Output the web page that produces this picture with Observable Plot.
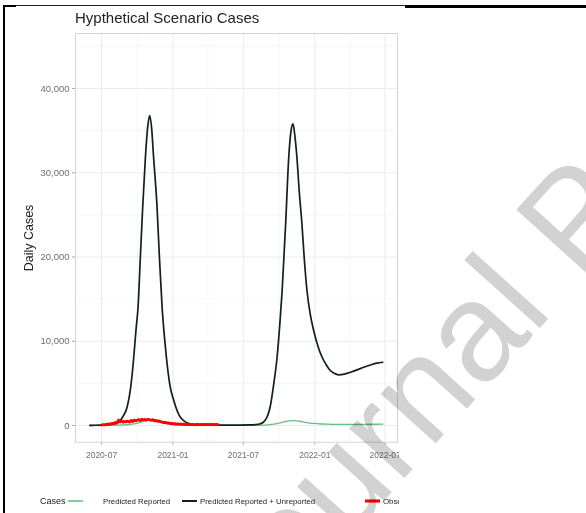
<!DOCTYPE html>
<html>
<head>
<meta charset="utf-8">
<script src="https://cdn.jsdelivr.net/npm/d3@7"></script>
<script src="https://cdn.jsdelivr.net/npm/@observablehq/plot@0.6"></script>
<style>
  body { margin: 0; background: #fff; }
  #page { position: relative; width: 586px; height: 513px; overflow: hidden; background: #fff;
          font-family: "Liberation Sans", Arial, sans-serif; isolation: isolate; }
  .edge { position: absolute; background: #000; }
  #fig { position: absolute; left: 0; top: 0; width: 399px; height: 513px; overflow: hidden; }
  #title { position: absolute; left: 75px; top: 10px; font-size: 15px; line-height: 15px; color: #222; white-space: nowrap; }
  #chart { position: absolute; left: 0; top: 0; }
  #extras { position: absolute; left: 0; top: 0; }
  #chart svg [aria-label="x-axis tick"], #chart svg [aria-label="y-axis tick"] { stroke: #a8a8a8; }
  #chart svg [aria-label="x-axis tick label"] text { fill: #6e6e6e; font-size: 8.5px; }
  #chart svg [aria-label="y-axis tick label"] text { fill: #6e6e6e; font-size: 9.5px; }
  #mark { position: absolute; left: 0; top: 0; pointer-events: none; mix-blend-mode: multiply; }
</style>
</head>
<body>
<div id="page">
  <div id="fig">
    <div id="title">Hypthetical Scenario Cases</div>
    <div id="chart"></div>
    <svg id="extras" width="399" height="513"></svg>
  </div>
  <div class="edge" style="left:3px;top:5px;width:2.4px;height:508px"></div>
  <div class="edge" style="left:3px;top:5px;width:13px;height:2.4px"></div>
  <div class="edge" style="left:16px;top:5px;width:389px;height:1px;background:#222"></div>
  <div class="edge" style="left:405px;top:5px;width:181px;height:2.6px"></div>
  <svg id="mark" width="586" height="513"></svg>
</div>
<script>
// Model output: predicted daily cases (reported only, and reported + unreported)
const predDates = [
  "2020-06-01","2020-06-15","2020-07-01","2020-07-15","2020-07-29","2020-08-10","2020-08-24",
  "2020-09-05","2020-09-14","2020-09-22","2020-09-28","2020-10-03","2020-10-09","2020-10-15",
  "2020-10-22","2020-10-28","2020-11-02","2020-11-07","2020-11-12","2020-11-21","2020-11-27",
  "2020-12-04","2020-12-10","2020-12-15","2020-12-24","2021-01-03","2021-01-20","2021-02-15",
  "2021-03-15","2021-04-15","2021-05-15","2021-06-15","2021-07-15","2021-08-01","2021-08-12",
  "2021-08-22","2021-09-01","2021-09-08","2021-09-17","2021-09-26","2021-10-03","2021-10-09",
  "2021-10-18","2021-10-26","2021-11-01","2021-11-06","2021-11-11","2021-11-16","2021-11-22",
  "2021-11-29","2021-12-05","2021-12-12","2021-12-20","2021-12-29","2022-01-10","2022-01-20",
  "2022-02-01","2022-02-10","2022-02-20","2022-03-03","2022-03-18","2022-04-03","2022-04-20",
  "2022-05-07","2022-05-24","2022-06-10","2022-06-25"
];
const predTotal = [
  20, 30, 50, 80, 150, 280, 1000,
  2200, 4500, 8100, 11500, 14000, 20000, 25900,
  31850, 35500, 36800, 35300, 31850, 25900, 20000,
  14000, 10500, 8100, 4800, 2970, 990, 200,
  60, 40, 40, 50, 70, 110, 180,
  400, 1100, 2170, 4800, 8100, 12000, 16000,
  23900, 31850, 35000, 35800, 34300, 31850, 27800,
  23900, 19800, 16000, 13300, 11300, 9300, 8100,
  7100, 6530, 6200, 6020, 6100, 6330, 6600,
  6920, 7180, 7400, 7510
];
const predReported = [
  5, 8, 12, 18, 25, 35, 60,
  90, 130, 190, 250, 300, 390, 470,
  550, 600, 620, 610, 580, 520, 450,
  360, 290, 240, 160, 110, 60, 30,
  15, 12, 12, 14, 16, 20, 25,
  40, 70, 100, 160, 230, 300, 380,
  470, 540, 580, 590, 580, 560, 520,
  470, 410, 340, 290, 250, 210, 180,
  160, 145, 135, 130, 130, 135, 140,
  145, 150, 152, 155
];

// Observed daily cases, sampled every 4 days from 2020-07-01
const obsStart = "2020-07-01";
const obsStepDays = 4;
const observed = [
  60, 110, 80, 150, 120, 200, 170, 260,
  230, 380, 300, 650, 420, 560, 380, 500,
  440, 520, 400, 600, 480, 640, 560,
  620, 700, 580, 760, 660, 720, 640, 740,
  680, 620, 700, 560, 600, 500, 540, 440,
  420, 340, 380, 290, 320, 240, 260,
  200, 230, 160, 200, 140, 180, 130, 160,
  120, 150, 100, 140, 110, 130, 90,
  120, 150, 95, 130, 110, 140, 100, 125,
  95, 140, 110, 130, 100, 120, 105
];

// Axis breaks
const xTicks = ["2020-07-01","2021-01-01","2021-07-01","2022-01-01","2022-07-01"];
const xMinor = ["2020-10-01","2021-04-01","2021-10-01","2022-04-01"];
const yTicks = [0, 10000, 20000, 30000, 40000];
const yMinor = [5000, 15000, 25000, 35000, 45000];

const seriesNames = ["Predicted Reported", "Predicted Reported + Unreported", "Observed"];
const seriesColors = ["#66bd80", "#10201a", "#ff0000"];
const seriesWidths = [1.3, 1.7, 2.8];

const parse = d3.utcParse("%Y-%m-%d");
const predicted = predDates.map((d, i) => ({date: parse(d), total: predTotal[i], reported: predReported[i]}));
const obsRows = observed.map((v, i) => ({date: d3.utcDay.offset(parse(obsStart), i * obsStepDays), value: v}));

const chart = Plot.plot({
  width: 399,
  height: 470,
  marginLeft: 75,
  marginRight: 2,
  marginTop: 33,
  marginBottom: 28.3,
  style: {fontFamily: "Liberation Sans, Arial, sans-serif", background: "transparent", overflow: "visible"},
  x: {
    type: "utc",
    domain: [parse("2020-04-25"), parse("2022-08-02")],
    ticks: xTicks.map(parse),
    tickFormat: d3.utcFormat("%Y-%m"),
    tickSize: 3,
    tickPadding: 7,
    label: null
  },
  y: {
    domain: [-1980, 46530],
    ticks: yTicks,
    tickFormat: d3.format(","),
    tickSize: 3,
    tickPadding: 3,
    label: null
  },
  marks: [
    Plot.ruleX(xMinor.map(parse), {stroke: "#f4f4f4", strokeWidth: 0.8}),
    Plot.ruleY(yMinor, {stroke: "#f4f4f4", strokeWidth: 0.8}),
    Plot.ruleX(xTicks.map(parse), {stroke: "#ebebeb", strokeWidth: 1}),
    Plot.ruleY(yTicks, {stroke: "#ebebeb", strokeWidth: 1}),
    Plot.frame({stroke: "#d4d4d4", strokeWidth: 1}),
    Plot.line(predicted, {x: "date", y: "reported", stroke: seriesColors[0], strokeWidth: seriesWidths[0], curve: "monotone-x"}),
    Plot.line(predicted, {x: "date", y: "total", stroke: seriesColors[1], strokeWidth: seriesWidths[1], curve: "monotone-x"}),
    Plot.line(obsRows, {x: "date", y: "value", stroke: seriesColors[2], strokeWidth: seriesWidths[2], curve: "linear"})
  ]
});
document.getElementById("chart").appendChild(chart);

// Y-axis title and legend row
const extras = d3.select("#extras")
  .attr("font-family", "Liberation Sans, Arial, sans-serif");
extras.append("text")
  .attr("transform", "translate(33,238) rotate(-90)")
  .attr("text-anchor", "middle")
  .attr("font-size", 12.5)
  .attr("fill", "#222")
  .text("Daily Cases");

const legendY = 501;
extras.append("text")
  .attr("x", 40).attr("y", legendY).attr("dy", "0.35em")
  .attr("font-size", 9).attr("fill", "#222")
  .text("Cases");
const keyX = [68, 182, 365];
const labelX = [103, 200, 383];
seriesNames.forEach((name, i) => {
  extras.append("line")
    .attr("x1", keyX[i]).attr("x2", keyX[i] + 15)
    .attr("y1", legendY).attr("y2", legendY)
    .attr("stroke", seriesColors[i])
    .attr("stroke-width", seriesWidths[i] + 0.3);
  extras.append("text")
    .attr("x", labelX[i]).attr("y", legendY).attr("dy", "0.35em")
    .attr("font-size", 7.8).attr("fill", "#222")
    .text(name);
});

// Page watermark, multiplied over the figure so marks beneath stay visible
d3.select("#mark").append("text")
  .attr("x", 247).attr("y", 653)
  .attr("transform", "rotate(-48 247 653)")
  .attr("font-family", "Liberation Sans, Arial, sans-serif")
  .attr("font-size", 140)
  .attr("fill", "#d2d2d2")
  .text("Journal Pre-proof");
</script>
</body>
</html>
